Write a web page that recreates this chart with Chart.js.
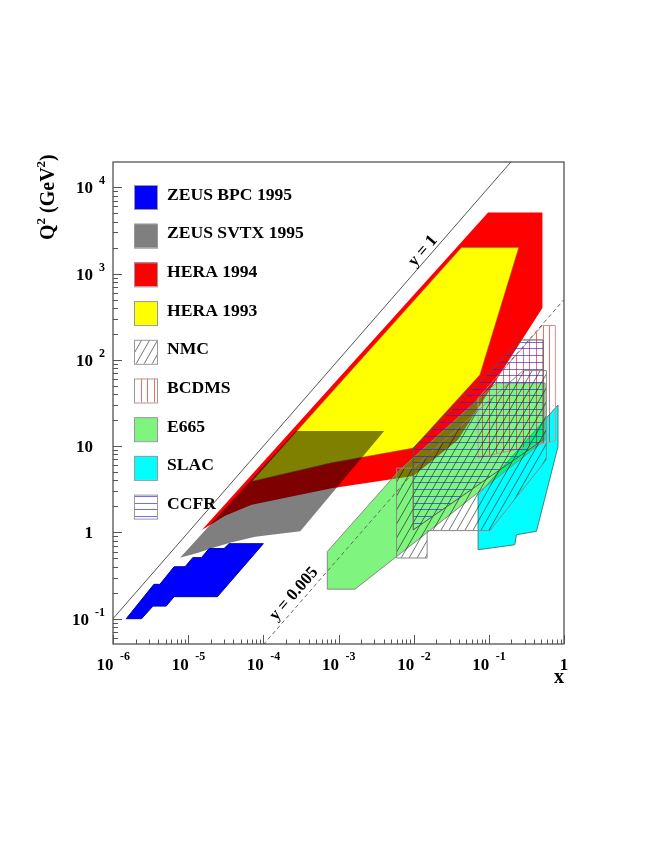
<!DOCTYPE html>
<html><head><meta charset="utf-8">
<script src="https://cdn.jsdelivr.net/npm/chart.js@4/dist/chart.umd.min.js"></script>
<style>html,body{margin:0;padding:0;background:#fff}canvas{display:block}</style>
</head><body>
<canvas id="c" width="664" height="860"></canvas>
<script>
// ---- data (x, Q^2 in GeV^2) ----
const bpcX   = [1.5e-6, 2.4e-6, 3.4e-6, 5.1e-6, 6.5e-6, 2.45e-5, 1.0e-4, 3.5e-5, 3.0e-5, 1.9e-5, 1.5e-5, 1.15e-5, 9.1e-6, 6.5e-6, 4.2e-6, 3.5e-6];
const bpcQ2  = [0.10, 0.10, 0.14, 0.14, 0.18, 0.18, 0.74, 0.74, 0.65, 0.65, 0.51, 0.51, 0.40, 0.40, 0.25, 0.25];
const svtxX  = [7.8e-6, 2.7e-4, 4.05e-3, 3.1e-4, 7.8e-5, 3.6e-5, 2.1e-5, 1.36e-5];
const svtxQ2 = [0.51, 15, 15, 1.03, 0.89, 0.76, 0.66, 0.58];
const hera94X  = [1.52e-5, 0.0977, 0.516, 0.516, 0.126, 0.0387, 0.00985, 8.1e-4, 7.0e-5, 3.1e-5];
const hera94Q2 = [1.07, 5100, 5100, 400, 58.6, 11.8, 4.5, 3.26, 2.09, 1.56];
const hera93X  = [7.0e-5, 0.0433, 0.25, 0.076, 0.00985, 8.1e-4];
const hera93Q2 = [3.9, 2000, 2000, 67, 9.5, 6.4];
const nmcX   = [5.93e-3, 0.00985, 0.285, 0.583, 0.583, 0.103, 0.0151, 0.0151, 5.93e-3];
const nmcQ2  = [5.56, 5.56, 75, 75, 6.95, 1.05, 1.05, 0.505, 0.505];
const bcdmsX  = [0.072, 0.516, 0.768, 0.768, 0.072];
const bcdmsQ2 = [36, 250, 250, 11.5, 7.3];
const e665X  = [7.1e-4, 7.1e-4, 6.4e-3, 0.126, 0.56, 0.56, 1.66e-3];
const e665Q2 = [0.22, 0.60, 5.2, 54, 54, 11.8, 0.22];
const slacX  = [0.072, 0.072, 0.832, 0.832, 0.43, 0.233, 0.221];
const slacQ2 = [0.63, 2.73, 30, 9.9, 1.03, 0.94, 0.72];
const ccfrX  = [0.00985, 0.272, 0.526, 0.526, 0.00985];
const ccfrQ2 = [9.5, 170, 170, 11.8, 1.07];
const yOneX  = [1e-6, 0.2];      // y = 1 line
const yOneQ2 = [0.1, 20000];
const yLowX  = [1e-4, 1];        // y = 0.005 line
const yLowQ2 = [0.05, 500];

const legendLabels = ['ZEUS BPC 1995','ZEUS SVTX 1995','HERA 1994','HERA 1993','NMC','BCDMS','E665','SLAC','CCFR'];
const xTickValues = [1e-6,1e-5,1e-4,1e-3,1e-2,1e-1,1];
const xTickBase   = ['10','10','10','10','10','10','1'];
const xTickSup    = ['-6','-5','-4','-3','-2','-1',''];
const yTickValues = [0.1,1,10,100,1000,10000];
const yTickBase   = ['10','1','10','10','10','10'];
const yTickSup    = ['-1','','','2','3','4'];

// drawing order: first = bottom
const polys = [
  {name:'HERA 1994', xs:hera94X, ys:hera94Q2, fill:{type:'solid',color:'#ff0000'}, stroke:null},
  {name:'HERA 1993', xs:hera93X, ys:hera93Q2, fill:{type:'solid',color:'#ffff00'}, stroke:'rgba(120,120,0,0.5)'},
  {name:'ZEUS SVTX 1995', xs:svtxX, ys:svtxQ2, fill:{type:'solid',color:'rgba(0,0,0,0.5)'}, stroke:null},
  {name:'ZEUS BPC 1995', xs:bpcX, ys:bpcQ2, fill:{type:'solid',color:'#0000ff'}, stroke:'#0000aa'},
  {name:'SLAC', xs:slacX, ys:slacQ2, fill:{type:'solid',color:'#00ffff'}, stroke:'#338888'},
  {name:'E665', xs:e665X, ys:e665Q2, fill:{type:'solid',color:'rgba(0,235,0,0.5)'}, stroke:'#888888'},
  {name:'BCDMS', xs:bcdmsX, ys:bcdmsQ2, fill:{type:'vert',color:'rgba(255,0,0,0.6)'}, stroke:'#d09090'},
  {name:'NMC', xs:nmcX, ys:nmcQ2, fill:{type:'diag',color:'rgba(0,0,0,0.7)'}, stroke:'#888888'},
  {name:'CCFR', xs:ccfrX, ys:ccfrQ2, fill:{type:'horiz',color:'rgba(30,30,255,0.65)'}, stroke:'#555555'}
];
const styleByName = {};
polys.forEach(p=>styleByName[p.name]=p);

function fillArea(ctx, fill, bx){
  if(fill.type==='solid'){ctx.fillStyle=fill.color; ctx.fill(); return;}
  ctx.save(); ctx.clip();
  ctx.strokeStyle=fill.color; ctx.lineWidth=1; ctx.beginPath();
  if(fill.type==='vert'){
    const s=6.7;
    for(let k=Math.floor(bx.x1/s);k<=Math.ceil(bx.x2/s);k++){const x=Math.round(k*s)+0.5; ctx.moveTo(x,bx.y1); ctx.lineTo(x,bx.y2);}
  } else if(fill.type==='horiz'){
    const s=6.7;
    for(let k=Math.floor(bx.y1/s);k<=Math.ceil(bx.y2/s);k++){const y=Math.round(k*s)+0.5; ctx.moveTo(bx.x1,y); ctx.lineTo(bx.x2,y);}
  } else if(fill.type==='diag'){
    const s=8, m=1.75; ctx.lineWidth=0.8;
    const k1=Math.floor((bx.x1+bx.y1/m)/s)-1, k2=Math.ceil((bx.x2+bx.y2/m)/s)+1;
    for(let k=k1;k<=k2;k++){ctx.moveTo(k*s-bx.y1/m,bx.y1); ctx.lineTo(k*s-bx.y2/m,bx.y2);}
  }
  ctx.stroke(); ctx.restore();
}

const polyPlugin = {
  id:'poly',
  beforeDatasetDraw(chart, args){
    const p = styleByName[chart.data.datasets[args.index].label];
    if(!p) return;
    const ctx=chart.ctx, ca=chart.chartArea;
    const pts=args.meta.data.map(e=>({x:e.x,y:e.y}));
    let bx={x1:1e9,y1:1e9,x2:-1e9,y2:-1e9};
    pts.forEach(q=>{bx.x1=Math.min(bx.x1,q.x);bx.x2=Math.max(bx.x2,q.x);bx.y1=Math.min(bx.y1,q.y);bx.y2=Math.max(bx.y2,q.y);});
    ctx.save();
    ctx.beginPath(); ctx.rect(ca.left,ca.top,ca.right-ca.left,ca.bottom-ca.top); ctx.clip();
    ctx.beginPath(); pts.forEach((q,i)=>i?ctx.lineTo(q.x,q.y):ctx.moveTo(q.x,q.y)); ctx.closePath();
    fillArea(ctx,p.fill,bx);
    if(p.stroke){ctx.beginPath(); pts.forEach((q,i)=>i?ctx.lineTo(q.x,q.y):ctx.moveTo(q.x,q.y)); ctx.closePath(); ctx.strokeStyle=p.stroke; ctx.lineWidth=1; ctx.stroke();}
    ctx.restore();
  }
};

const SERIF='"Liberation Serif","Times New Roman",serif';
const decorPlugin = {
  id:'decor',
  afterDraw(chart){
    const ctx=chart.ctx, ca=chart.chartArea, sx=chart.scales.x, sy=chart.scales.y;
    ctx.save();
    // frame
    ctx.strokeStyle='#444'; ctx.lineWidth=1.2;
    ctx.strokeRect(ca.left, ca.top, ca.right-ca.left, ca.bottom-ca.top);
    // ticks
    ctx.strokeStyle='#555'; ctx.lineWidth=1; ctx.beginPath();
    for(let d=-2; d<=4; d++){
      for(let m=1;m<=9;m++){
        const v=m*Math.pow(10,d); if(v<sy.min||v>sy.max) continue;
        const y=Math.round(sy.getPixelForValue(v))+0.5; const L=(m===1)?9:5;
        ctx.moveTo(ca.left,y); ctx.lineTo(ca.left+L,y);
      }
    }
    for(let d=-6; d<=0; d++){
      for(let m=1;m<=9;m++){
        const v=m*Math.pow(10,d); if(v<sx.min*0.999||v>sx.max*1.001) continue;
        const x=Math.round(sx.getPixelForValue(v))+0.5; const L=(m===1)?9:4.5;
        ctx.moveTo(x,ca.bottom); ctx.lineTo(x,ca.bottom-L);
      }
    }
    ctx.stroke();
    // tick labels
    ctx.fillStyle='#000';
    const baseFont='bold 17px '+SERIF, supFont='bold 12px '+SERIF;
    yTickValues.forEach((v,i)=>{
      const py=sy.getPixelForValue(v);
      if(yTickSup[i]){
        ctx.font=supFont; const sw=ctx.measureText(yTickSup[i]).width;
        const sxp=ca.left-8-sw; ctx.textAlign='left'; ctx.fillText(yTickSup[i],sxp,py-3);
        ctx.font=baseFont; ctx.textAlign='right'; ctx.fillText(yTickBase[i],sxp-6,py+6);
      } else {
        ctx.font=baseFont; ctx.textAlign='right'; ctx.fillText(yTickBase[i],ca.left-20,py+6);
      }
    });
    xTickValues.forEach((v,i)=>{
      const px=sx.getPixelForValue(v);
      ctx.font=baseFont;
      if(xTickSup[i]){
        ctx.textAlign='right'; ctx.fillText(xTickBase[i],px+0.5,ca.bottom+26);
        ctx.font=supFont; ctx.textAlign='left'; ctx.fillText(xTickSup[i],px+7,ca.bottom+16);
      } else {
        ctx.textAlign='center'; ctx.fillText(xTickBase[i],px,ca.bottom+26);
      }
    });
    // axis titles
    ctx.font='bold 20px '+SERIF; ctx.textAlign='center';
    ctx.fillText('x', ca.right-5, ca.bottom+39);
    ctx.save();
    ctx.translate(54, 240); ctx.rotate(-Math.PI/2); ctx.textAlign='left';
    let cx=0;
    const parts=[['Q',0],['2',1],[' (GeV',0],['2',1],[')',0]];
    parts.forEach(([t,s])=>{
      ctx.font=(s?'bold 13px ':'bold 20px ')+SERIF;
      ctx.fillText(t,cx,s?-9:0); cx+=ctx.measureText(t).width;
    });
    ctx.restore();
    // line labels
    ctx.font='bold 17px '+SERIF; ctx.textAlign='center'; ctx.textBaseline='middle';
    [['y = 1',423,251],['y = 0.005',294,594]].forEach(([t,x,y])=>{
      ctx.save(); ctx.translate(x,y); ctx.rotate(-Math.atan(86.34/75.27)); ctx.fillText(t,0,0); ctx.restore();
    });
    // legend
    ctx.textBaseline='middle'; ctx.textAlign='left';
    legendLabels.forEach((name,i)=>{
      const p=styleByName[name]; const cy=194+38.7*i;
      const bx={x1:134,y1:cy-9,x2:157,y2:cy+15};
      ctx.save();
      ctx.beginPath(); ctx.rect(bx.x1,bx.y1,bx.x2-bx.x1,bx.y2-bx.y1);
      fillArea(ctx,p.fill,bx);
      ctx.strokeStyle='#999'; ctx.lineWidth=1;
      ctx.strokeRect(bx.x1+0.5,bx.y1+0.5,bx.x2-bx.x1,bx.y2-bx.y1);
      ctx.restore();
      ctx.fillStyle='#000'; ctx.font='bold 17.6px '+SERIF;
      ctx.fillText(name,167,cy+1);
    });
    ctx.restore();
  }
};

// Chart.js draws dataset 0 on top, so lines first, then polygons from top-most to bottom-most
const datasets = [];
datasets.push({label:'y = 1', data:yOneX.map((x,i)=>({x:x,y:yOneQ2[i]})), showLine:true, pointRadius:0, borderColor:'#555', borderWidth:1, fill:false});
datasets.push({label:'y = 0.005', data:yLowX.map((x,i)=>({x:x,y:yLowQ2[i]})), showLine:true, pointRadius:0, borderColor:'#666', borderWidth:1, borderDash:[4,3], fill:false});
polys.slice().reverse().forEach(p=>datasets.push({
  label:p.name, data:p.xs.map((x,i)=>({x:x,y:p.ys[i]})),
  showLine:false, pointRadius:0, pointHoverRadius:0, borderWidth:0
}));

new Chart(document.getElementById('c'), {
  type:'scatter',
  data:{datasets:datasets},
  options:{
    responsive:false, animation:false, devicePixelRatio:1,
    layout:{padding:{left:113,right:100,top:162,bottom:216}},
    plugins:{legend:{display:false}, tooltip:{enabled:false}},
    events:[],
    scales:{
      x:{type:'logarithmic', min:1e-6, max:1, display:false},
      y:{type:'logarithmic', min:0.0509, max:19630, display:false}
    }
  },
  plugins:[polyPlugin, decorPlugin]
});
</script>
</body></html>
